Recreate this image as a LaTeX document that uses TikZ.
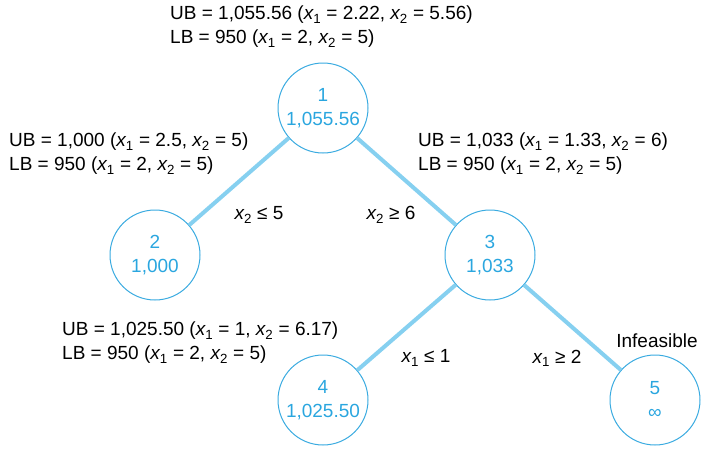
\documentclass[tikz,border=0pt]{standalone}
\usepackage{fontspec}
\setmainfont{Liberation Sans}
\definecolor{edgeblue}{HTML}{86D0F0}
\definecolor{ringblue}{HTML}{3AABE0}
\definecolor{textblue}{HTML}{2AA6DF}
\newcommand{\xv}[1]{{\itshape x}\textsubscript{#1}}
\begin{document}
\begin{tikzpicture}[x=1pt,y=-1pt,
  every node/.style={font=\fontsize{19}{24}\selectfont},
  bbnode/.style={circle,draw=ringblue,line width=1pt,minimum size=90pt,inner sep=0pt,align=center,text=textblue},
  branch/.style={draw=edgeblue,line width=4pt},
  info/.style={anchor=north west,align=left,inner sep=0pt},
  cut/.style={inner sep=0pt}]
\useasboundingbox (0,0) rectangle (702,453);
\node[bbnode] (n1) at (323,108) {1\\1,055.56};
\node[bbnode] (n2) at (155,255) {2\\1,000};
\node[bbnode] (n3) at (490,255) {3\\1,033};
\node[bbnode] (n4) at (323,400) {4\\1,025.50};
\node[bbnode] (n5) at (655,400) {5\\{\fontsize{19}{24}\selectfont ∞}};
\draw[branch] (n1) -- (n2);
\draw[branch] (n1) -- (n3);
\draw[branch] (n3) -- (n4);
\draw[branch] (n3) -- (n5);
\node[info] (t1) at (170,6) {UB = 1,055.56 (\xv{1} = 2.22, \xv{2} = 5.56)\\LB = 950 (\xv{1} = 2, \xv{2} = 5)};
\node[info] (t2) at (9,133) {UB = 1,000 (\xv{1} = 2.5, \xv{2} = 5)\\LB = 950 (\xv{1} = 2, \xv{2} = 5)};
\node[info] (t3) at (418,133) {UB = 1,033 (\xv{1} = 1.33, \xv{2} = 6)\\LB = 950 (\xv{1} = 2, \xv{2} = 5)};
\node[info] (t4) at (62,322) {UB = 1,025.50 (\xv{1} = 1, \xv{2} = 6.17)\\LB = 950 (\xv{1} = 2, \xv{2} = 5)};
\node[cut] (c12) at (259,215) {\xv{2} ≤ 5};
\node[cut] (c13) at (391,215) {\xv{2} ≥ 6};
\node[cut] (c34) at (426,358) {\xv{1} ≤ 1};
\node[cut] (c35) at (557,358) {\xv{1} ≥ 2};
\node[cut] (inf) at (657,341) {Infeasible};
\end{tikzpicture}
\end{document}
